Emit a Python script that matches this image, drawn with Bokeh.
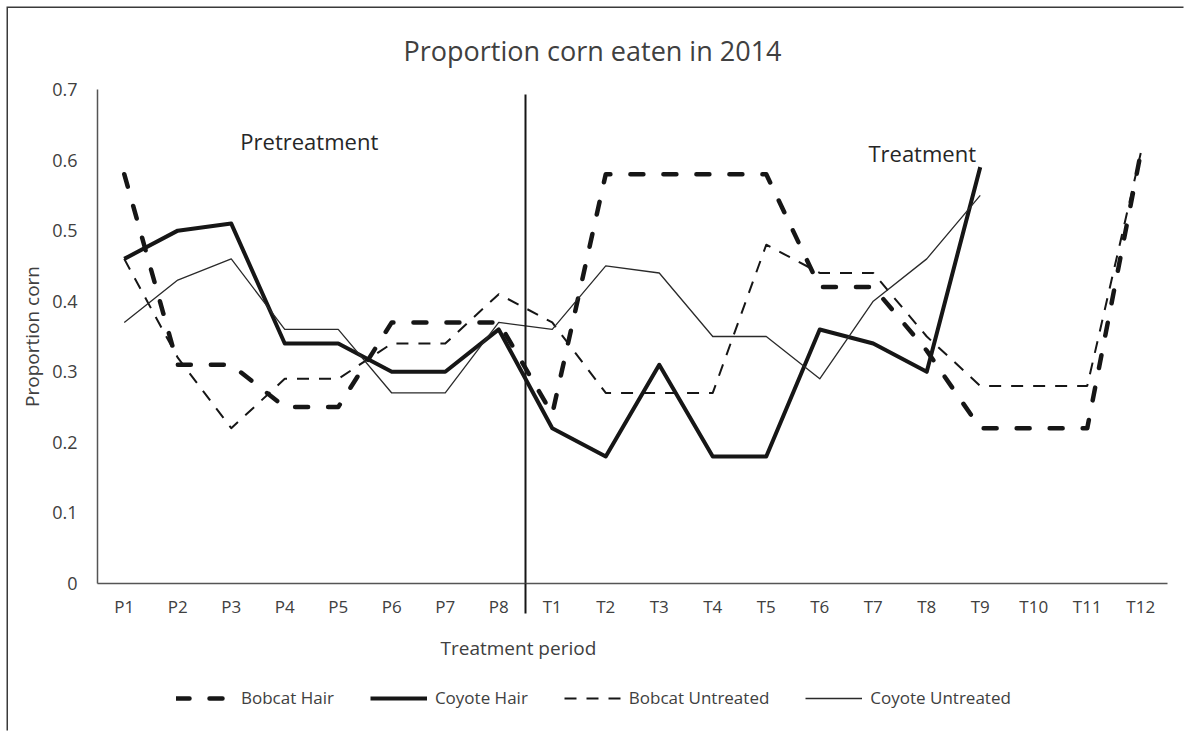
from bokeh.plotting import figure
from bokeh.layouts import column
from bokeh.models import Range1d, FixedTicker, Legend, LegendItem, Label, Title
from bokeh.embed import file_html
from bokeh.resources import INLINE

# ---------------- data ----------------
pre_periods = ["P1", "P2", "P3", "P4", "P5", "P6", "P7", "P8"]
trt_periods = ["T1", "T2", "T3", "T4", "T5", "T6", "T7", "T8", "T9", "T10", "T11", "T12"]
periods = pre_periods + trt_periods

bobcat_hair = [0.58, 0.31, 0.31, 0.25, 0.25, 0.37, 0.37, 0.37,
               0.24, 0.58, 0.58, 0.58, 0.58, 0.42, 0.42, 0.33, 0.22, 0.22, 0.22, 0.61]
coyote_hair = [0.46, 0.50, 0.51, 0.34, 0.34, 0.30, 0.30, 0.36,
               0.22, 0.18, 0.31, 0.18, 0.18, 0.36, 0.34, 0.30, 0.59]
bobcat_untreated = [0.46, 0.32, 0.22, 0.29, 0.29, 0.34, 0.34, 0.41,
                    0.37, 0.27, 0.27, 0.27, 0.48, 0.44, 0.44, 0.35, 0.28, 0.28, 0.28, 0.61]
coyote_untreated = [0.37, 0.43, 0.46, 0.36, 0.36, 0.27, 0.27, 0.37,
                    0.36, 0.45, 0.44, 0.35, 0.35, 0.29, 0.40, 0.46, 0.55]

y_ticks = [0, 0.1, 0.2, 0.3, 0.4, 0.5, 0.6, 0.7]
y_tick_labels = ["0", "0.1", "0.2", "0.3", "0.4", "0.5", "0.6", "0.7"]

title_text = "Proportion corn eaten in 2014"
x_label = "Treatment period"
y_label = "Proportion corn"
series_names = ["Bobcat Hair", "Coyote Hair", "Bobcat Untreated", "Coyote Untreated"]

# ---------------- styling ----------------
FONT = "Open Sans"
TXT = "#404040"
INK = "#161616"
AX = "#555555"

# (name, line_width, line_dash, line_cap, color)
styles = [
    (series_names[0], 4.5, "13 20", "round", INK),
    (series_names[1], 4.0, "solid", "butt", INK),
    (series_names[2], 2.0, "12 10", "butt", INK),
    (series_names[3], 1.3, "solid", "butt", "#2a2a2a"),
]
series_values = [bobcat_hair, coyote_hair, bobcat_untreated, coyote_untreated]

xs = list(range(1, len(periods) + 1))
sep_x = len(pre_periods) + 0.5

# ---------------- main chart ----------------
p = figure(width=1177, height=675, output_backend="svg", toolbar_location=None,
           x_range=Range1d(0.5, len(periods) + 0.5), y_range=Range1d(0, 0.7),
           min_border_left=89, min_border_right=18, min_border_top=80, min_border_bottom=100)
p.outline_line_color = None
p.xgrid.visible = False
p.ygrid.visible = False
p.background_fill_color = "white"
p.border_fill_color = "white"

p.title.text = title_text
p.title.align = "left"
p.title.offset = 306
p.title.standoff = 42
p.title.text_font = FONT
p.title.text_font_size = "27px"
p.title.text_font_style = "normal"
p.title.text_color = TXT

xa = p.xaxis[0]
xa.ticker = FixedTicker(ticks=xs, minor_ticks=[sep_x])
xa.major_label_overrides = {i: lab for i, lab in zip(xs, periods)}
xa.major_tick_line_color = None
xa.minor_tick_in = 0
xa.minor_tick_out = 30
xa.minor_tick_line_color = INK
xa.minor_tick_line_width = 2
xa.axis_line_color = AX
xa.axis_line_width = 1.5
xa.major_label_standoff = -19
xa.major_label_text_font = FONT
xa.major_label_text_font_size = "17px"
xa.major_label_text_color = TXT

ya = p.yaxis[0]
ya.ticker = FixedTicker(ticks=y_ticks)
ya.bounds = (0, 0.7)
ya.major_label_overrides = {t: lab for t, lab in zip(y_ticks, y_tick_labels)}
ya.major_tick_line_color = None
ya.minor_tick_line_color = None
ya.axis_line_color = AX
ya.axis_line_width = 1.5
ya.major_label_standoff = 14
ya.major_label_text_font = FONT
ya.major_label_text_font_size = "18px"
ya.major_label_text_color = TXT
ya.axis_label = y_label
ya.axis_label_text_font = FONT
ya.axis_label_text_font_size = "19px"
ya.axis_label_text_font_style = "normal"
ya.axis_label_text_color = TXT
ya.axis_label_standoff = 4

for (name, lw, dash, cap, col), vals in zip(styles, series_values):
    p.line(xs[:len(vals)], vals, line_color=col, line_width=lw, line_dash=dash,
           line_cap=cap, line_join="round")

# separator between pretreatment and treatment periods
p.segment(x0=[sep_x], y0=[0], x1=[sep_x], y1=[0.693], line_color=INK, line_width=2)

p.add_layout(Label(x=3.17, y=0.627, text="Pretreatment", text_font=FONT, text_font_size="22px",
                   text_color="#262626", text_align="left", text_baseline="middle"))
p.add_layout(Label(x=14.91, y=0.61, text="Treatment", text_font=FONT, text_font_size="22px",
                   text_color="#262626", text_align="left", text_baseline="middle"))

p.add_layout(Title(text=x_label, align="left", offset=343, standoff=24, text_font=FONT,
                   text_font_size="19px", text_font_style="normal", text_color=TXT), "below")

# ---------------- legend strip ----------------
# same series as proxies for the legend swatches; the strip's view range keeps them out of sight
lf = figure(width=1177, height=49, output_backend="svg", toolbar_location=None,
            x_range=Range1d(-1, 0), y_range=Range1d(0, 1), x_axis_type=None, y_axis_type=None,
            min_border=0, min_border_left=0, min_border_right=0, min_border_top=0,
            min_border_bottom=0)
lf.outline_line_color = None
lf.xgrid.visible = False
lf.ygrid.visible = False
lf.background_fill_color = "white"
lf.border_fill_color = "white"

items = []
for (name, lw, dash, cap, col), vals in zip(styles, series_values):
    r = lf.line(xs[:len(vals)], vals, line_color=col, line_width=lw, line_dash=dash,
                line_cap=cap)
    items.append(LegendItem(label=name, renderers=[r]))

legend = Legend(items=items, orientation="horizontal", location=(79, 23), glyph_width=57,
                glyph_height=20, label_standoff=8, spacing=36, padding=0, margin=0,
                border_line_color=None, background_fill_alpha=0, label_text_font=FONT,
                label_text_font_size="17px", label_text_color=TXT, label_text_baseline="middle")
lf.add_layout(legend)

layout = column(p, lf, spacing=0)
layout.styles = {"margin-left": "8px", "margin-top": "8px",
                 "box-shadow": "-1.5px -1.5px 0px 0px #3a3a3a"}

open("out.html", "w").write(file_html(layout, INLINE))
